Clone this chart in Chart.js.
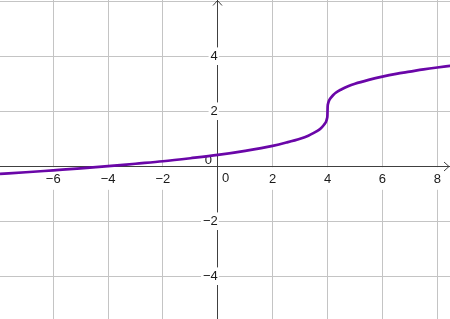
<!DOCTYPE html>
<html><head><meta charset="utf-8">
<script src="https://cdn.jsdelivr.net/npm/chart.js@4/dist/chart.umd.min.js"></script>
<style>html,body{margin:0;padding:0;background:#fff}canvas{display:block}</style>
</head><body>
<canvas id="c" width="450" height="319"></canvas>
<script>
// Curve
const xValues = [-7.94, -7, -6, -5, -4, -3, -2, -1, 0, 1, 2, 2.5, 3, 3.3, 3.5, 3.7, 3.8, 3.9, 3.95, 3.98, 3.995, 4, 4.005, 4.02, 4.05, 4.1, 4.2, 4.3, 4.5, 4.75, 5, 5.5, 6, 6.5, 7, 7.5, 8, 8.47];
const yValues = [-0.28, -0.22, -0.15, -0.08, 0.00, 0.09, 0.18, 0.29, 0.41, 0.56, 0.74, 0.86, 1.00, 1.11, 1.21, 1.33, 1.42, 1.54, 1.63, 1.73, 1.83, 2.00, 2.17, 2.27, 2.37, 2.46, 2.58, 2.67, 2.79, 2.91, 3.00, 3.14, 3.26, 3.36, 3.44, 3.52, 3.59, 3.65];
const xTicks = [-6, -4, -2, 0, 2, 4, 6, 8];
const yTicks = [-4, -2, 0, 2, 4, 6];

const FONT = '"Liberation Sans", Arial, sans-serif';
const GRID = '#c4c4c4';
const AXIS = '#404040';
const TEXT = '#1a1a1a';
const CURVE = '#6a06a8';

const fmt = v => v === 0 ? null : (v < 0 ? '\u2212' + Math.abs(v) : String(v));
const noPad = s => { s.paddingTop = 0; s.paddingBottom = 0; s.paddingLeft = 0; s.paddingRight = 0; };

const axisDecor = {
  id: 'axisDecor',
  beforeDatasetsDraw(chart) {
    const { ctx, chartArea, scales: { x, y } } = chart;
    const x0 = Math.round(x.getPixelForValue(0) - 0.5) + 0.5;
    const y0 = Math.round(y.getPixelForValue(0) - 0.5) + 0.5;
    ctx.save();
    ctx.font = '13px ' + FONT;
    ctx.fillStyle = TEXT;
    ctx.textAlign = 'right';
    ctx.textBaseline = 'middle';
    ctx.fillText('0', x0 + 0.5 - 6, y0 - 6);
    ctx.textAlign = 'center';
    ctx.fillText('0', x0 + 8, y0 + 12);
    ctx.strokeStyle = AXIS;
    ctx.lineWidth = 1;
    ctx.beginPath();
    const t = chartArea.top + 0.5;
    ctx.moveTo(x0 - 4.5, t + 5); ctx.lineTo(x0, t); ctx.lineTo(x0 + 4.5, t + 5);
    const r = chartArea.right - 1;
    ctx.moveTo(r - 5, y0 - 4.5); ctx.lineTo(r, y0); ctx.lineTo(r - 5, y0 + 4.5);
    ctx.stroke();
    ctx.restore();
  }
};

new Chart(document.getElementById('c'), {
  type: 'scatter',
  data: {
    datasets: [{
      data: xValues.map((v, i) => ({ x: v, y: yValues[i] })),
      showLine: true,
      borderColor: CURVE,
      borderWidth: 2.7,
      pointRadius: 0,
      cubicInterpolationMode: 'monotone'
    }]
  },
  options: {
    responsive: false,
    devicePixelRatio: 1,
    animation: false,
    layout: { padding: 0 },
    plugins: { legend: { display: false }, tooltip: { enabled: false } },
    scales: {
      x: {
        type: 'linear',
        position: { y: 0 },
        min: -7.94, max: 8.465,
        afterBuildTicks: s => { s.ticks = xTicks.map(v => ({ value: v })); },
        afterFit: noPad,
        grid: { color: GRID, drawTicks: false, lineWidth: 1 },
        border: { color: AXIS, width: 1 },
        ticks: {
          callback: fmt,
          font: { family: FONT, size: 13 },
          color: TEXT,
          padding: 5,
          maxRotation: 0,
          autoSkip: false,
          showLabelBackdrop: true,
          backdropColor: '#ffffff',
          backdropPadding: { top: 4, bottom: 3, left: 2, right: 2 }
        }
      },
      y: {
        type: 'linear',
        position: { x: 0 },
        min: -5.556, max: 6.044,
        afterBuildTicks: s => { s.ticks = yTicks.map(v => ({ value: v })); },
        afterFit: noPad,
        grid: { color: GRID, drawTicks: false, lineWidth: 1 },
        border: { color: AXIS, width: 1 },
        ticks: {
          callback: v => v === 6 ? '' : fmt(v),
          font: { family: FONT, size: 13 },
          color: TEXT,
          padding: 6,
          autoSkip: false,
          showLabelBackdrop: true,
          backdropColor: ctx => ctx.tick && ctx.tick.value === 6 ? 'rgba(0,0,0,0)' : '#ffffff',
          backdropPadding: { top: 1, bottom: 1, left: 2, right: 1 }
        }
      }
    }
  },
  plugins: [axisDecor]
});
</script>
</body></html>
